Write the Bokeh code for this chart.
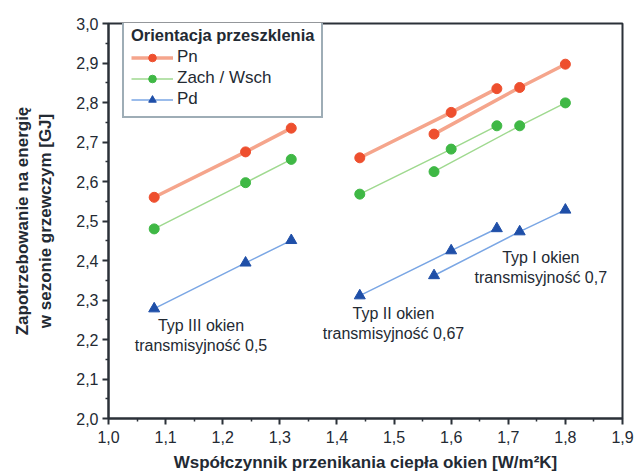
from bokeh.plotting import figure
from bokeh.models import (Range1d, FixedTicker, CustomJSTickFormatter,
                          Legend, ColumnDataSource)
from bokeh.core.properties import value
from bokeh.embed import file_html
from bokeh.resources import INLINE

# ---- data ----
x_typ3 = [1.08, 1.24, 1.32]
x_typ2 = [1.44, 1.60, 1.68]
x_typ1 = [1.57, 1.72, 1.80]

pn_typ3 = [2.56, 2.675, 2.735]
pn_typ2 = [2.66, 2.775, 2.835]
pn_typ1 = [2.72, 2.838, 2.897]

zw_typ3 = [2.48, 2.597, 2.656]
zw_typ2 = [2.568, 2.682, 2.741]
zw_typ1 = [2.625, 2.741, 2.799]

pd_typ3 = [2.278, 2.394, 2.451]
pd_typ2 = [2.311, 2.425, 2.481]
pd_typ1 = [2.362, 2.473, 2.528]

series_names = ["Pn", "Zach / Wsch", "Pd"]
group_labels = ["Typ III okien\ntransmisyjność 0,5",
                "Typ II okien\ntransmisyjność 0,67",
                "Typ I okien\ntransmisyjność 0,7"]

x_ticks = [1.0, 1.1, 1.2, 1.3, 1.4, 1.5, 1.6, 1.7, 1.8, 1.9]
y_ticks = [2.0, 2.1, 2.2, 2.3, 2.4, 2.5, 2.6, 2.7, 2.8, 2.9, 3.0]

FONT = "Liberation Sans"
TXT = "#232a33"

p = figure(width=635, height=475, output_backend="svg", toolbar_location=None,
           x_range=Range1d(1.0, 1.9), y_range=Range1d(2.0, 3.0),
           min_border_left=108, min_border_right=13, min_border_top=23,
           min_border_bottom=57)
p.background_fill_color = "white"
p.border_fill_color = "white"
p.outline_line_color = "#2b3138"
p.outline_line_width = 2
p.xgrid.visible = False
p.ygrid.visible = False

fmt = CustomJSTickFormatter(code="return tick.toFixed(1).replace('.', ',');")
for ax, ticks in ((p.xaxis[0], x_ticks), (p.yaxis[0], y_ticks)):
    minors = [round((a + b) / 2, 3) for a, b in zip(ticks[:-1], ticks[1:])]
    ax.ticker = FixedTicker(ticks=ticks, minor_ticks=minors)
    ax.formatter = fmt
    ax.axis_line_width = 2
    ax.axis_line_color = "#2b3138"
    ax.major_tick_line_color = "#2b3138"
    ax.minor_tick_line_color = "#2b3138"
    ax.major_tick_line_width = 2
    ax.minor_tick_line_width = 1.5
    ax.major_tick_out = 6
    ax.major_tick_in = 0
    ax.minor_tick_out = 3
    ax.minor_tick_in = 0
    ax.major_label_text_font = FONT
    ax.major_label_text_font_size = "16px"
    ax.major_label_text_color = TXT
    ax.axis_label_text_font = FONT
    ax.axis_label_text_font_style = "bold"
    ax.axis_label_text_font_size = "17px"
    ax.axis_label_text_color = TXT

p.xaxis.axis_label = "Współczynnik przenikania ciepła okien [W/m²K]"
p.yaxis.axis_label = "Zapotrzebowanie na energię\nw sezonie grzewczym [GJ]"
p.xaxis.axis_label_standoff = 7
p.yaxis.axis_label_standoff = 18
p.yaxis.major_label_standoff = 4
p.xaxis.major_label_standoff = 6

xs_groups = [x_typ3, x_typ2, x_typ1]
styles = [
    (series_names[0], [pn_typ3, pn_typ2, pn_typ1], "#ee4f2e", "#f5a58c", 3.5, "circle", 10),
    (series_names[1], [zw_typ3, zw_typ2, zw_typ1], "#3fb845", "#9fd98f", 1.5, "circle", 10),
    (series_names[2], [pd_typ3, pd_typ2, pd_typ1], "#1f4fa8", "#7aa6e4", 1.5, "triangle", 11),
]

items = []
for name, ys_groups, pc, lc, lw, marker, size in styles:
    ml = p.multi_line(xs=xs_groups, ys=ys_groups, line_color=lc, line_width=lw)
    fx = [v for g in xs_groups for v in g]
    fy = [v for g in ys_groups for v in g]
    sc = p.scatter(fx, fy, marker=marker, size=size, fill_color=pc, line_color=pc)
    items.append((name, [ml, sc]))

legend = Legend(items=items, location=(14, 300))
legend.title = "Orientacja przeszklenia"
legend.title_text_font = FONT
legend.title_text_font_style = "bold"
legend.title_text_font_size = "16.5px"
legend.title_text_color = TXT
legend.title_standoff = 2
legend.label_text_font = FONT
legend.label_text_font_size = "17px"
legend.label_text_color = TXT
legend.border_line_color = "#3d5b6e"
legend.border_line_width = 2
legend.background_fill_alpha = 1
legend.glyph_width = 42
legend.glyph_height = 19
legend.label_height = 19
legend.spacing = 1
legend.padding = 7
legend.margin = 0
legend.label_standoff = 4
p.add_layout(legend)

ann_x = [1.162, 1.499, 1.757]
ann_y = [2.21, 2.24, 2.383]
src = ColumnDataSource(dict(x=ann_x, y=ann_y, t=group_labels))
p.text(x="x", y="y", text="t", source=src, text_align="center",
       text_baseline="middle", text_font=value(FONT), text_font_size="16px",
       text_color=TXT, text_line_height=1.2)

open("out.html", "w").write(file_html(p, INLINE))
